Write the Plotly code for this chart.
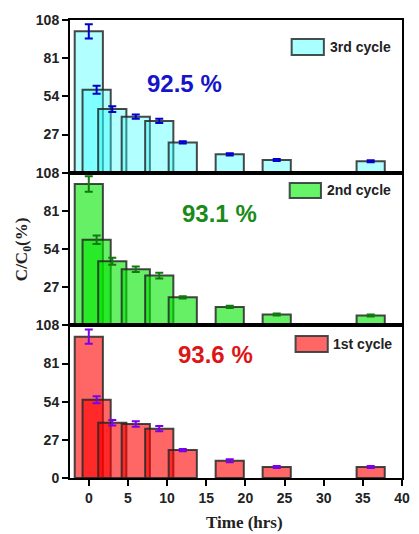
import plotly.graph_objects as go
from plotly.subplots import make_subplots

times = [0, 1, 3, 6, 9, 12, 18, 24, 36]
cycle3 = [100, 58.6, 45.0, 39.6, 36.6, 21.4, 13.0, 9.0, 8.1]
err3 = [5, 2.8, 2.0, 1.5, 1.5, 0.8, 0.8, 0.7, 0.7]
cycle2 = [100, 60.5, 45.4, 39.7, 35.2, 19.8, 13.0, 7.6, 6.9]
err2 = [5.5, 3.0, 2.5, 2.0, 2.0, 0.8, 0.8, 0.7, 0.7]
cycle1 = [100, 55.4, 39.1, 38.2, 34.9, 19.8, 12.2, 7.8, 7.8]
err1 = [5, 2.5, 2.0, 2.0, 1.8, 0.8, 1.0, 0.7, 0.7]
labels = ["3rd cycle", "2nd cycle", "1st cycle"]
efficiencies = ["92.5 %", "93.1 %", "93.6 %"]
yticks = [0, 27, 54, 81, 108]
xticks = [0, 5, 10, 15, 20, 25, 30, 35, 40]

fills = ["rgba(40,255,255,0.36)", "rgba(0,230,0,0.6)", "rgba(255,0,0,0.6)"]
swatch = ["rgb(170,255,255)", "rgb(102,245,102)", "rgb(255,102,102)"]
errcol = ["#0000cc", "#107a10", "#7a00ee"]
txtcol = ["#1414c8", "#1a8a1a", "#dd1515"]

fig = make_subplots(rows=3, cols=1, shared_xaxes=True, vertical_spacing=0)

series = [(cycle3, err3), (cycle2, err2), (cycle1, err1)]
for i, (vals, errs) in enumerate(series):
    fig.add_trace(go.Bar(
        x=times, y=vals, width=[3.6] * len(times),
        marker=dict(color=fills[i], line=dict(color="rgba(40,40,40,0.85)", width=2)),
        error_y=dict(type="data", array=errs, visible=True, color=errcol[i], thickness=2, width=4),
        name=labels[i], showlegend=False,
    ), row=i + 1, col=1)

fig.update_layout(barmode="overlay", width=419, height=534,
                  margin=dict(l=70, r=9, t=20, b=56),
                  plot_bgcolor="white", paper_bgcolor="white")

tickfont = dict(family="Liberation Sans", size=14, color="#222", weight="bold")
for i in range(3):
    r = i + 1
    fig.update_yaxes(range=[0, 108], tickvals=yticks if r == 3 else yticks[1:],
                     ticks="outside", ticklen=6, tickwidth=2, tickcolor="black",
                     showline=True, linecolor="black", linewidth=2, mirror=True,
                     showgrid=False, zeroline=False, tickfont=tickfont, row=r, col=1)
    fig.update_xaxes(range=[-2.4, 40], tickvals=xticks,
                     ticks="outside" if r == 3 else "", ticklen=6, tickwidth=2, tickcolor="black",
                     showticklabels=(r == 3),
                     showline=True, linecolor="black", linewidth=2, mirror=True,
                     showgrid=False, zeroline=False, tickfont=tickfont, row=r, col=1)

def px(x):
    return (x - 70) / 340

def py(y):
    return (478 - y) / 458

fig.add_annotation(text="Time (hrs)", xref="paper", yref="paper", x=px(249), y=py(522),
                   xanchor="center", yanchor="middle", showarrow=False,
                   font=dict(family="Liberation Serif", size=17, color="#222", weight="bold"))

fig.add_annotation(text="C/C<sub>0</sub>(%)", xref="paper", yref="paper", x=px(22), y=py(249),
                   xanchor="center", yanchor="middle", textangle=-90, showarrow=False,
                   font=dict(family="Liberation Serif", size=17, color="#222", weight="bold"))

pct_pos = [(187, 68), (183, 213), (179, 370)]
for i, (cx, cy) in enumerate(pct_pos):
    fig.add_annotation(text=efficiencies[i], xref="paper", yref="paper", x=px(cx), y=py(cy),
                       showarrow=False, font=dict(family="Liberation Sans", size=24, color=txtcol[i], weight="bold"))

leg = [(297, 39, 330, 55, 334), (295, 183, 327, 198, 331), (301, 336, 334, 352, 337)]
for i, (x0, y0, x1, y1, tx) in enumerate(leg):
    fig.add_shape(type="rect", xref="paper", yref="paper", x0=px(x0), x1=px(x1), y0=py(y1), y1=py(y0),
                  fillcolor=swatch[i], line=dict(color="rgba(50,60,60,0.9)", width=2))
    fig.add_annotation(text=labels[i], xref="paper", yref="paper", x=px(tx), y=py((y0 + y1) / 2),
                       xanchor="left", yanchor="middle", showarrow=False,
                       font=dict(family="Liberation Sans", size=14, color="#222", weight="bold"))

fig.write_html("out.html")
